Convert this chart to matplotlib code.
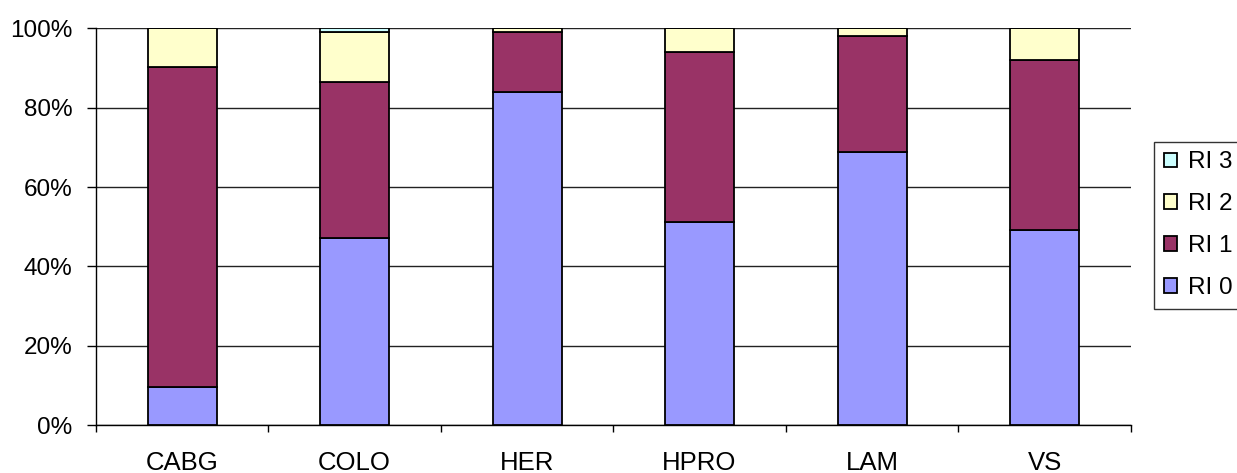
import matplotlib
matplotlib.use("Agg")
import matplotlib.pyplot as plt
import numpy as np
from matplotlib.ticker import FixedLocator, PercentFormatter

categories = ["CABG", "COLO", "HER", "HPRO", "LAM", "VS"]
ri0 = [9.7, 47.1, 83.9, 51.1, 68.8, 49.1]
ri1 = [80.7, 39.4, 15.1, 42.9, 29.2, 42.9]
ri2 = [9.6, 12.5, 1.0, 6.0, 2.0, 8.0]
ri3 = [0.0, 1.0, 0.0, 0.0, 0.0, 0.0]
series_names = ["RI 0", "RI 1", "RI 2", "RI 3"]
colors = ["#9999FF", "#993366", "#FFFFCC", "#CCFFFF"]

plt.rcParams['font.family'] = ['Liberation Sans', 'DejaVu Sans']

fig = plt.figure(figsize=(12.37, 4.73), dpi=100)
ax = fig.add_axes([95.8/1237, 1 - 425/473, (1130.8 - 95.8)/1237, (425 - 28.5)/473])

x = np.arange(len(categories))
bottom = np.zeros(len(categories))
handles = []
for name, vals, c in zip(series_names, [ri0, ri1, ri2, ri3], colors):
    vals = np.array(vals)
    h = ax.bar(x, vals, width=0.40, bottom=bottom, color=c, edgecolor="black",
               linewidth=1.3, label=name, zorder=3)
    handles.append(h)
    bottom += vals

ax.set_xlim(-0.5, len(categories) - 0.5)
ax.set_ylim(0, 100)
ax.set_yticks([0, 20, 40, 60, 80, 100])
ax.yaxis.set_major_formatter(PercentFormatter(decimals=0))
ax.yaxis.grid(True, color="#222222", linewidth=1.0, zorder=0)
ax.set_axisbelow(True)

ax.set_xticks(x)
ax.set_xticklabels(categories)
ax.xaxis.set_minor_locator(FixedLocator(np.arange(-0.5, len(categories) + 0.5, 1)))
ax.tick_params(axis="x", which="major", length=0, pad=19, labelsize=18.5)
ax.tick_params(axis="x", which="minor", length=5, width=1.0, color="black")
ax.tick_params(axis="y", which="major", length=6.5, width=1.0, pad=10.5, labelsize=17.5)

for s in ["top", "right"]:
    ax.spines[s].set_visible(False)
ax.spines["left"].set_linewidth(1.0)
ax.spines["bottom"].set_linewidth(1.0)

leg = fig.legend(handles[::-1], series_names[::-1], loc="upper left",
                 bbox_to_anchor=(1154/1237, 1 - 141.7/473), bbox_transform=fig.transFigure,
                 fontsize=17.5, frameon=True, fancybox=False, edgecolor="black",
                 handlelength=0.55, handleheight=0.55, handletextpad=0.45,
                 labelspacing=0.82, borderpad=0.4, borderaxespad=0)
leg.get_frame().set_linewidth(1.0)

fig.savefig("out.png", dpi=100)
